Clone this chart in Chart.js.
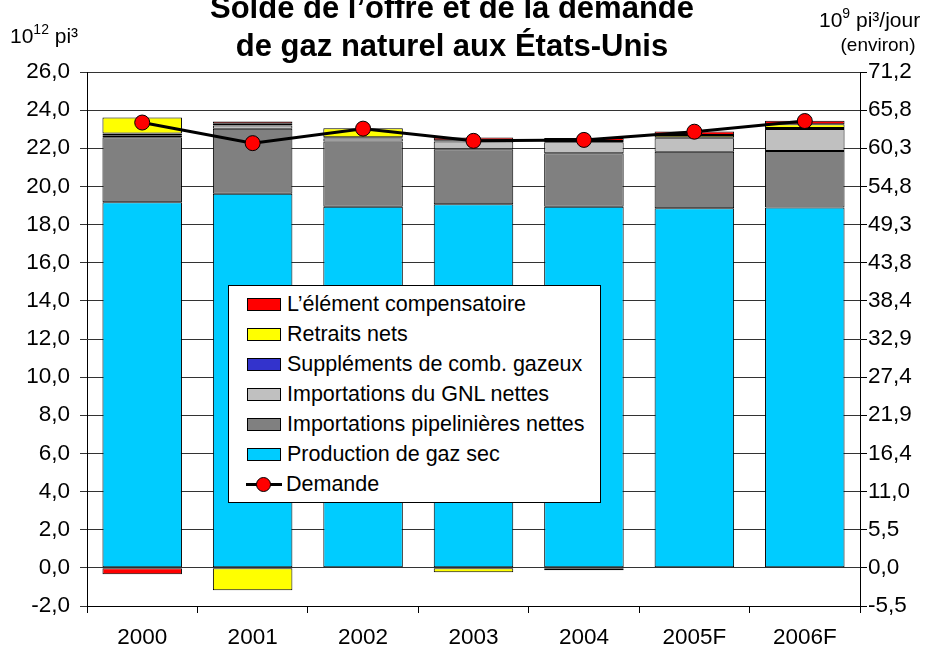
<!DOCTYPE html>
<html>
<head>
<meta charset="utf-8">
<script src="https://cdn.jsdelivr.net/npm/chart.js@4"></script>
<style>
  body { margin: 0; background: #fff; }
  #wrap { position: relative; width: 937px; height: 652px; overflow: hidden; }
  #legend {
    position: absolute; left: 228px; top: 285px; width: 373px; height: 218px;
    border: 1px solid #000; background: #fff; padding-top: 3px; box-sizing: border-box;
    font-family: 'Liberation Sans', Arial, sans-serif; font-size: 21.5px; color: #000;
  }
  .row { height: 30px; display: flex; align-items: center; }
  .sw { width: 34px; height: 13px; border: 1px solid #000; margin-left: 18px; margin-right: 6px; box-sizing: border-box; }
  .ln { position: relative; width: 36px; height: 15px; margin-left: 17px; margin-right: 4px; }
  .ln::before { content: ''; position: absolute; left: 0; right: 0; top: 6px; height: 3px; background: #000; }
  .ln::after { content: ''; position: absolute; left: 10px; top: 0; width: 15px; height: 15px; border-radius: 50%; background: #f00; border: 1px solid #000; box-sizing: border-box; }
</style>
</head>
<body>
<div id="wrap">
  <canvas id="c" width="937" height="652"></canvas>
  <div id="legend"></div>
</div>
<script>
const categories = ['2000', '2001', '2002', '2003', '2004', '2005F', '2006F']
const production = [19.17, 19.62, 18.94, 19.07, 18.94, 18.86, 18.89]
const pipelineImports = [3.41, 3.40, 3.41, 2.88, 2.80, 2.96, 2.97]
const lngImports = [0.10, 0.17, 0.16, 0.40, 0.58, 0.70, 1.15]
const supplemental = [0.09, 0.09, 0.07, 0.07, 0.06, 0.06, 0.06]
const netWithdrawals = [0.85, -1.17, 0.47, -0.23, -0.12, 0.12, 0.19]
const balancingItem = [-0.33, 0.12, 0.00, 0.14, 0.16, 0.18, 0.18]
const demand = [23.35, 22.27, 23.03, 22.39, 22.44, 22.87, 23.43]
const rightTickLabels = ['-5,5', '0,0', '5,5', '11,0', '16,4', '21,9', '27,4', '32,9',
  '38,4', '43,8', '49,3', '54,8', '60,3', '65,8', '71,2']

const FONT = "'Liberation Sans', Arial, sans-serif"
Chart.defaults.font.family = FONT
Chart.defaults.color = '#000'

function bar(label, data, color) {
  return {
    type: 'bar', label, data, backgroundColor: color, borderColor: '#000',
    borderWidth: 1, borderSkipped: false, order: 1, yAxisID: 'y',
  }
}

const datasets = [
  bar('Production de gaz sec', production, '#00CCFF'),
  bar('Importations pipelinières nettes', pipelineImports, '#808080'),
  bar('Importations du GNL nettes', lngImports, '#C0C0C0'),
  bar('Suppléments de comb. gazeux', supplemental, '#3333CC'),
  bar('Retraits nets', netWithdrawals, '#FFFF00'),
  bar('L’élément compensatoire', balancingItem, '#FF0000'),
  {
    type: 'line', label: 'Demande', data: demand, borderColor: '#000', borderWidth: 3,
    pointRadius: 7.5, pointBackgroundColor: '#FF0000', pointBorderColor: '#000',
    pointBorderWidth: 1, order: 0, yAxisID: 'y', tension: 0,
  },
]

// titles and unit labels
const textPlugin = {
  id: 'texts',
  afterDraw(chart) {
    const ctx = chart.ctx
    ctx.save()
    ctx.fillStyle = '#000'
    ctx.textBaseline = 'alphabetic'
    ctx.textAlign = 'center'
    ctx.font = 'bold 31px ' + FONT
    ctx.fillText('Solde de l’offre et de la demande', 452, 18)
    ctx.fillText('de gaz naturel aux États-Unis', 452, 56)

    ctx.textAlign = 'left'
    ctx.font = '21px ' + FONT
    ctx.fillText('10', 10, 43)
    let w = ctx.measureText('10').width
    ctx.font = '14px ' + FONT
    ctx.fillText('12', 10 + w, 34)
    w += ctx.measureText('12').width
    ctx.font = '21px ' + FONT
    ctx.fillText(' pi³', 10 + w, 43)

    ctx.fillText('10', 819, 27)
    w = ctx.measureText('10').width
    ctx.font = '14px ' + FONT
    ctx.fillText('9', 819 + w, 18)
    w += ctx.measureText('9').width
    ctx.font = '21px ' + FONT
    ctx.fillText(' pi³/jour', 819 + w, 27)
    ctx.textAlign = 'center'
    ctx.font = '19px ' + FONT
    ctx.fillText('(environ)', 878, 51)
    ctx.restore()
  }
}

new Chart(document.getElementById('c'), {
  data: {labels: categories, datasets},
  options: {
    responsive: false,
    animation: false,
    devicePixelRatio: 1,
    layout: {padding: {top: 72}},
    plugins: {legend: {display: false}, tooltip: {enabled: false}, title: {display: false}},
    datasets: {bar: {categoryPercentage: 1, barPercentage: 0.72}},
    scales: {
      x: {
        stacked: true,
        afterFit: s => { s.height = 46 },
        grid: {offset: true, drawOnChartArea: false, color: '#000', tickLength: 7},
        border: {color: '#000'},
        ticks: {font: {size: 22.5}, padding: 11, maxRotation: 0},
      },
      y: {
        stacked: true,
        min: -2, max: 26,
        afterFit: s => { s.width = 87 },
        grid: {color: '#333', tickLength: 7},
        border: {color: '#000'},
        ticks: {stepSize: 2, font: {size: 22.5}, padding: 10,
          callback: v => v.toFixed(1).replace('.', ',')},
      },
      y1: {
        position: 'right',
        min: -2, max: 26,
        afterFit: s => { s.width = 77 },
        grid: {drawOnChartArea: false, color: '#000', tickLength: 7},
        border: {color: '#000'},
        ticks: {stepSize: 2, font: {size: 22.5}, padding: 1,
          callback: (v, i) => rightTickLabels[i]},
      },
    },
  },
  plugins: [textPlugin],
})

// legend box built from the datasets, top entry first
const legend = document.getElementById('legend')
const entries = datasets.filter(d => d.type === 'bar').reverse()
entries.forEach(d => {
  const row = document.createElement('div')
  row.className = 'row'
  row.innerHTML = '<div class="sw" style="background:' + d.backgroundColor + '"></div><span>' + d.label + '</span>'
  legend.appendChild(row)
})
const lineRow = document.createElement('div')
lineRow.className = 'row'
lineRow.innerHTML = '<div class="ln"></div><span>Demande</span>'
legend.appendChild(lineRow)
</script>
</body>
</html>
